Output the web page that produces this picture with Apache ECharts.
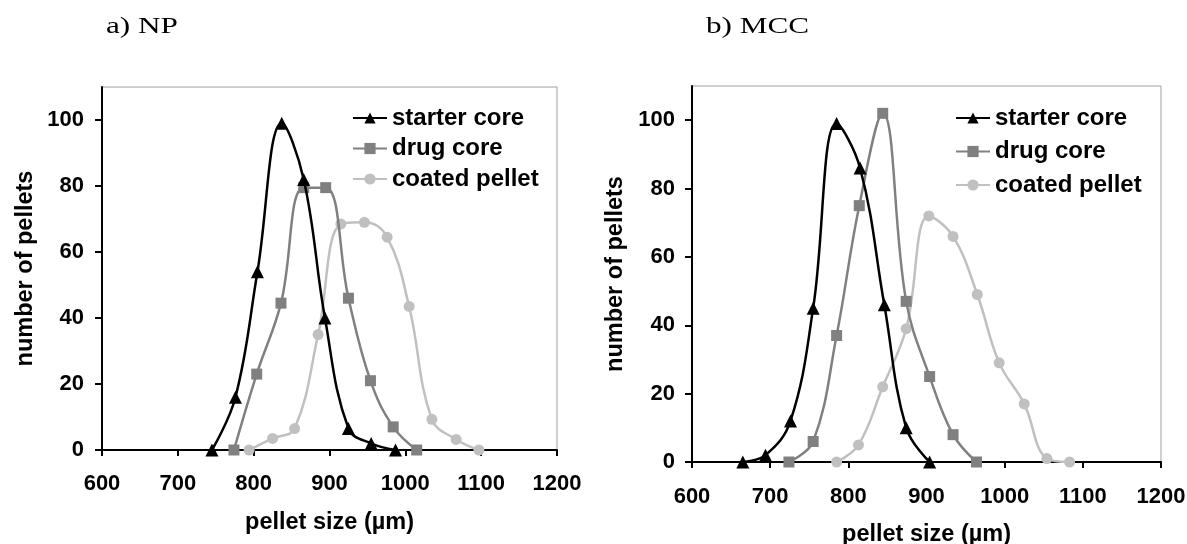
<!DOCTYPE html>
<html>
<head>
<meta charset="utf-8">
<script src="https://cdn.jsdelivr.net/npm/echarts@6/dist/echarts.min.js"></script>
<style>
html,body{margin:0;padding:0;background:#fff;}
#chart{width:1187px;height:544px;}
</style>
</head>
<body>
<div id="chart"></div>
<script>
// ---- data ----
const seriesNames = ['starter core', 'drug core', 'coated pellet'];
const panelTitles = ['a) NP', 'b) MCC'];
const xAxisTitle = 'pellet size (µm)';
const yAxisTitle = 'number of pellets';
const yTickValues = [0, 20, 40, 60, 80, 100];

// a) NP
const npStarterX = [745, 776, 805, 837, 866, 894, 925, 955, 987];
const npStarterY = [0, 16, 54, 99, 82, 40, 6.5, 2, 0];
const npDrugX = [774, 804, 836, 866, 895, 925, 954, 984, 1015];
const npDrugY = [0, 23, 44.5, 79.5, 79.5, 46, 21, 7, 0];
const npCoatedX = [794, 825, 854, 885, 915, 946, 976, 1005, 1035, 1067, 1097];
const npCoatedY = [0, 3.5, 6.5, 35, 68.5, 69, 64.5, 43.5, 9.3, 3.2, 0];

// b) MCC
const mccStarterX = [665, 694, 726, 755, 785, 815, 846, 874, 904];
const mccStarterY = [0, 2, 12, 45, 99, 86, 46, 10, 0];
const mccDrugX = [724, 755, 785, 814, 844, 874, 904, 934, 964];
const mccDrugY = [0, 6, 37, 75, 102, 47, 25, 8, 0];
const mccCoatedX = [785, 813, 844, 874, 903, 934, 965, 993, 1025, 1054, 1083];
const mccCoatedY = [0, 5, 22, 39, 72, 66, 49, 29, 17, 1, 0];

// ---- styling ----
const FONT = '"Liberation Sans", Arial, sans-serif';
const colors = ['#000000', '#808080', '#c0c0c0'];
const symbols = ['triangle', 'rect', 'circle'];
const symbolSizes = [13, 11, 11];

function pairs(xs, ys) { return xs.map((v, i) => [v, ys[i]]); }

function mkSeries(idx, name, xs, ys, k) {
  return {
    type: 'line', name: name, xAxisIndex: idx, yAxisIndex: idx,
    data: pairs(xs, ys), smooth: 0.4,
    symbol: symbols[k], symbolSize: symbolSizes[k], showAllSymbol: true,
    lineStyle: { color: colors[k], width: 2.5 },
    itemStyle: { color: colors[k] },
    z: 5 - k,
    animation: false
  };
}

function mkX(gridIdx, nameGap, labelMargin) {
  return {
    type: 'value', gridIndex: gridIdx, min: 600, max: 1200, interval: 100,
    name: xAxisTitle, nameLocation: 'middle', nameGap: nameGap,
    nameTextStyle: { fontFamily: FONT, fontWeight: 'bold', fontSize: 23.5, color: '#000' },
    axisLine: { show: true, onZero: false, lineStyle: { color: '#000', width: 2 } },
    axisTick: { show: true, inside: false, length: 6, lineStyle: { color: '#000', width: 2 } },
    axisLabel: { margin: labelMargin, formatter: v => String(v), fontFamily: FONT, fontWeight: 'bold', fontSize: 22, color: '#000' },
    splitLine: { show: false }
  };
}

function mkY(gridIdx, nameGap, labelMargin) {
  return {
    type: 'value', gridIndex: gridIdx, min: 0, max: 110,
    name: yAxisTitle, nameLocation: 'middle', nameGap: nameGap, nameRotate: 90,
    nameTextStyle: { fontFamily: FONT, fontWeight: 'bold', fontSize: 23.5, color: '#000' },
    axisLine: { show: true, onZero: false, lineStyle: { color: '#000', width: 2 } },
    axisTick: { show: true, inside: false, length: 7, customValues: yTickValues, lineStyle: { color: '#000', width: 2 } },
    axisLabel: { margin: labelMargin, customValues: yTickValues, fontFamily: FONT, fontWeight: 'bold', fontSize: 22, color: '#000' },
    splitLine: { show: false }
  };
}

function mkLegend(left, top, gap) {
  return {
    data: seriesNames, orient: 'vertical', left: left, top: top, padding: 0,
    itemGap: gap, itemWidth: 34, itemHeight: 14, selectedMode: false,
    textStyle: { fontFamily: FONT, fontWeight: 'bold', fontSize: 24, color: '#000', lineHeight: 24 }
  };
}

const chart = echarts.init(document.getElementById('chart'), null, { renderer: 'canvas' });
chart.setOption({
  backgroundColor: '#fff',
  animation: false,
  grid: [
    { left: 102, top: 87, width: 455, height: 363, show: true, borderColor: '#a0a0a0', borderWidth: 1, backgroundColor: 'transparent', containLabel: false, outerBoundsMode: 'none' },
    { left: 692, top: 86, width: 469, height: 376, show: true, borderColor: '#a0a0a0', borderWidth: 1, backgroundColor: 'transparent', containLabel: false, outerBoundsMode: 'none' }
  ],
  xAxis: [mkX(0, 61, 23), mkX(1, 61, 24)],
  yAxis: [mkY(0, 64, 18), mkY(1, 64, 17)],
  legend: [mkLegend(352, 106, 6.5), mkLegend(955, 106, 9.5)],
  graphic: [
    { type: 'text', x: 106, y: 27, scaleX: 1.3, style: { text: panelTitles[0], font: '24px "Liberation Serif", "Times New Roman", serif', fill: '#000', verticalAlign: 'middle', align: 'left' } },
    { type: 'text', x: 706, y: 27, scaleX: 1.3, style: { text: panelTitles[1], font: '24px "Liberation Serif", "Times New Roman", serif', fill: '#000', verticalAlign: 'middle', align: 'left' } }
  ],
  series: [
    mkSeries(0, seriesNames[0], npStarterX, npStarterY, 0),
    mkSeries(0, seriesNames[1], npDrugX, npDrugY, 1),
    mkSeries(0, seriesNames[2], npCoatedX, npCoatedY, 2),
    mkSeries(1, seriesNames[0], mccStarterX, mccStarterY, 0),
    mkSeries(1, seriesNames[1], mccDrugX, mccDrugY, 1),
    mkSeries(1, seriesNames[2], mccCoatedX, mccCoatedY, 2)
  ]
});
</script>
</body>
</html>
